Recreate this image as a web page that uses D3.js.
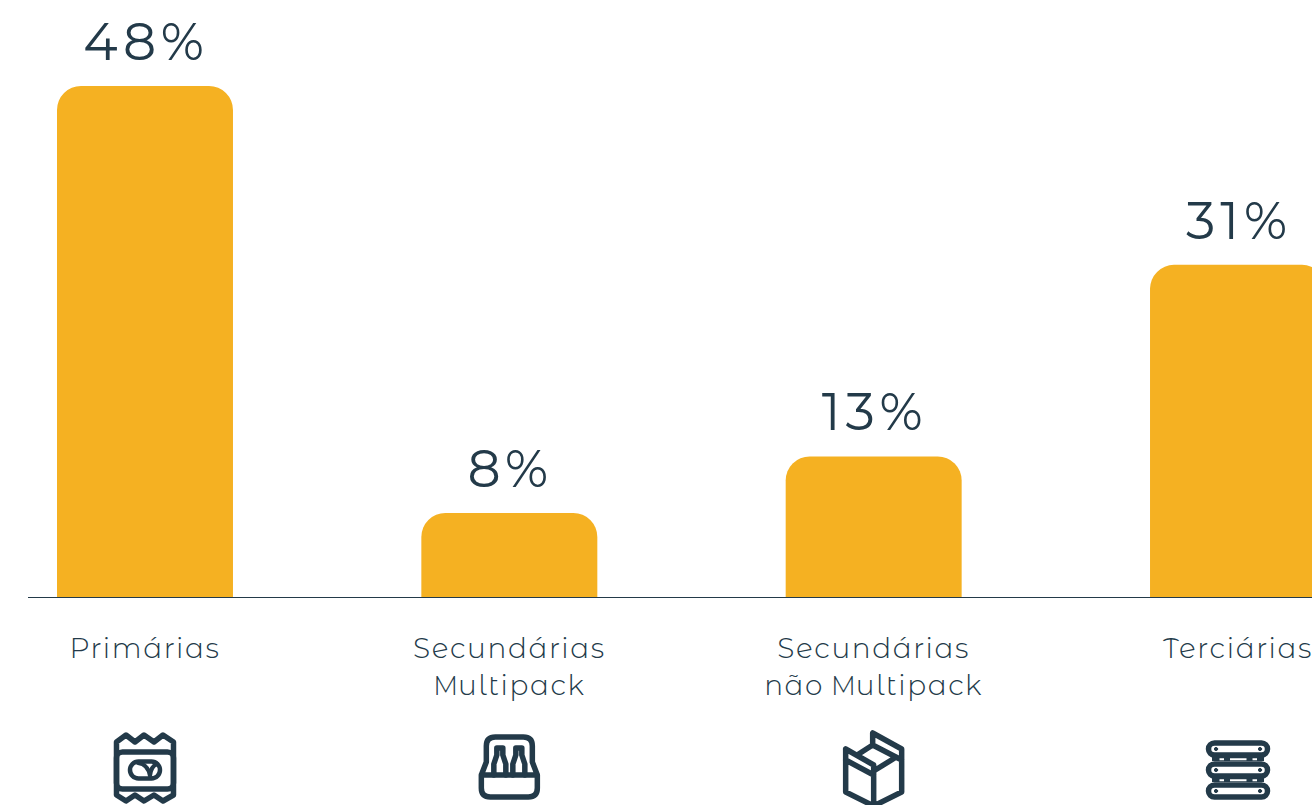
<!DOCTYPE html>
<html lang="pt"><head><meta charset="utf-8">
<script src="https://cdn.jsdelivr.net/npm/d3@7"></script>
<style>html,body{margin:0;padding:0;background:#fff;overflow:hidden}svg{display:block}</style>
</head><body><svg id="c" width="1312" height="805"></svg>
<script>
const categories = ["Primárias","Secundárias\nMultipack","Secundárias\nnão Multipack","Terciárias"];
const values = [48,7.9,13.2,31.2];
const valueLabels = ["48%","8%","13%","31%"];
const ink="#233a49", gold="#f5b122";
const fontFam="'Montserrat Alternates',Lato,'Noto Sans',sans-serif";
const plainFam="Montserrat,Lato,'Noto Sans',sans-serif";
const svg=d3.select("#c");
const x=d3.scaleBand().domain(categories).range([57,1326]).paddingInner(0.517).paddingOuter(0);
const y=d3.scaleLinear().domain([0,48]).range([597,86]);
const r=24;
function barPath(c,v){
  const p=d3.path(),x0=x(c),x1=x0+x.bandwidth(),b=y(0),t=y(v);
  p.moveTo(x0,b);p.lineTo(x0,t+r);p.arcTo(x0,t,x0+r,t,r);p.lineTo(x1-r,t);p.arcTo(x1,t,x1,t+r,r);p.lineTo(x1,b);p.closePath();
  return p.toString();
}
svg.selectAll("path.bar").data(categories).join("path").attr("class","bar")
  .attr("fill",gold).attr("d",(c,i)=>barPath(c,values[i]));
svg.append("line").attr("x1",28).attr("x2",1312).attr("y1",597.5).attr("y2",597.5).attr("stroke",ink).attr("stroke-width",1);
const cx=c=>x(c)+x.bandwidth()/2;
svg.selectAll("text.val").data(categories).join("text").attr("class","val")
  .attr("x",c=>cx(c)+1).attr("y",(c,i)=>y(values[i])-26)
  .attr("text-anchor","middle").attr("fill",ink)
  .style("font-family",plainFam).style("font-size","52px").style("font-weight",400).style("letter-spacing","5px")
  .text((c,i)=>valueLabels[i]);
const lab=svg.selectAll("text.lab").data(categories).join("text").attr("class","lab")
  .attr("text-anchor","middle").attr("fill",ink)
  .style("font-family",fontFam).style("font-size","28px").style("font-weight",300).style("letter-spacing","1.6px").style("word-spacing","-2px");
categories.forEach((c,k)=>{
  const t=d3.select(lab.nodes()[k]);
  c.split("\n").forEach((line,i)=>{
    const parts=line.split(/(M)/).filter(s=>s);
    parts.forEach((s,j)=>{
      const ts=t.append("tspan").text(s);
      if(j===0) ts.attr("x",cx(c)).attr("y",657.5+i*37);
      if(s==="M") ts.style("font-family",plainFam).style("font-size","26px").style("letter-spacing","0px");
    });
  });
});
// pictograms, drawn around their own centre
const icons=[
 g=>{ // wrapper
  g.append("path").attr("d","M-28.5,-26 L-19,-33 L-10,-26 L-1,-33 L9,-26 L18,-33 L28.5,-26 L28.5,27 L18,33 L9,27 L-1,33 L-10,27 L-19,33 L-28.5,27 Z");
  g.append("rect").attr("x",-28.5).attr("y",-16).attr("width",57).attr("height",37).attr("rx",6);
  g.append("rect").attr("x",-15).attr("y",-6.5).attr("width",30).attr("height",17).attr("rx",8.5).attr("stroke-width",4.5);
  g.append("path").attr("d","M-7,-5 Q3,-4 5,8 M5,8 Q6,-2 12,-4").attr("stroke-width",4);
 },
 g=>{ // crate
  g.append("path").attr("d","M-23,-6 V-22 Q-23,-31 -14,-31 H14 Q23,-31 23,-22 V-6 L28,7 V20 Q28,29 19,29 H-19 Q-28,29 -28,20 V7 Z M-28,7 H28");
  [-9.5,9.5].forEach(c=>g.append("path").attr("d",`M${c-6},7 V-4 L${c-3},-13 V-20 H${c+3} V-13 L${c+6},-4 V7`));
 },
 g=>{ // box
  g.append("path").attr("d","M-28,-19 L0,-3 V38 M0,3 L21,-10 M-28,-19 V24 L0,38 L28,24 V-19 L-1,-35 V-23 L28,-8 M-28,-8 L0,7 M-15,-14 L-1,-23");
 },
 g=>{ // pallets
  [-19,2,23].forEach(dy=>g.append("rect").attr("x",-29.5).attr("y",dy-6).attr("width",59).attr("height",12).attr("rx",6));
  [-9,12].forEach(dy=>{
    g.append("rect").attr("x",-26).attr("y",dy-2).attr("width",52).attr("height",4).attr("fill",ink).attr("stroke","none");
    g.append("path").attr("d",`M-18.5,${dy+.3} H-14 M-8,${dy+.3} H8.5 M14.5,${dy+.3} H19`).attr("stroke","#fff").attr("stroke-width",2).attr("stroke-linecap","butt");
  });
  [-19,2,23].forEach(dy=>[-22,22].forEach(dx=>g.append("circle").attr("cx",dx).attr("cy",dy).attr("r",1.6).attr("fill",ink).attr("stroke-width",1)));
 }
];
categories.forEach((c,i)=>{
  const g=svg.append("g").attr("transform",`translate(${cx(c)},768)`)
    .attr("fill","none").attr("stroke",ink).attr("stroke-width",5.5).attr("stroke-linejoin","round").attr("stroke-linecap","round");
  icons[i](g);
});
</script></body></html>
